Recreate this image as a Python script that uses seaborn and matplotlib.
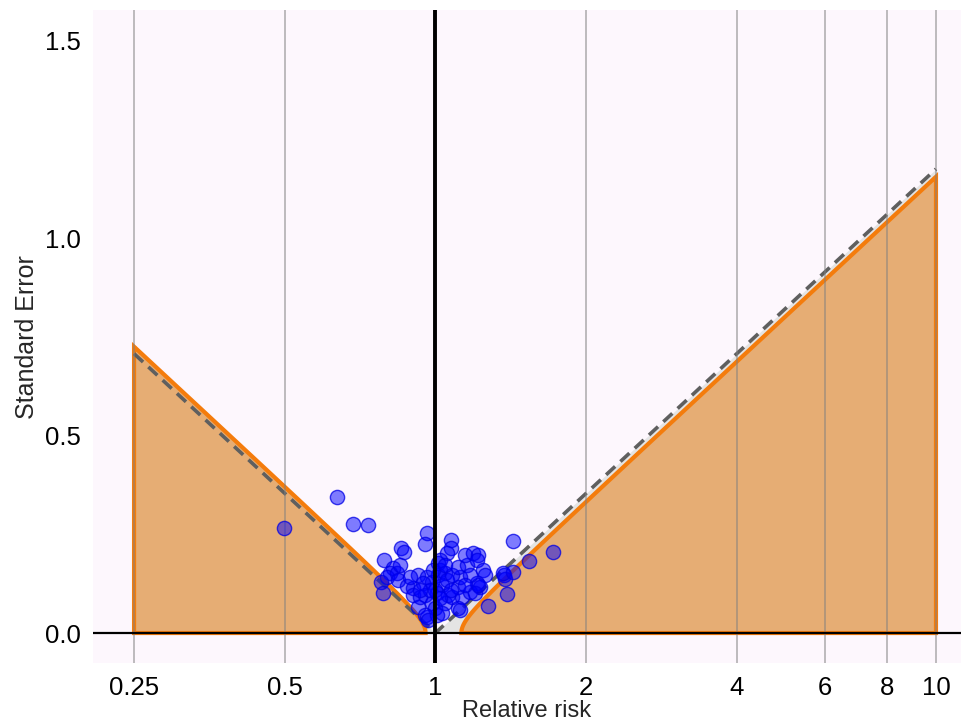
"""Contour-enhanced funnel plot: relative risk vs standard error."""

import matplotlib

matplotlib.use("Agg")
import matplotlib.pyplot as plt
import numpy as np
import pandas as pd
import seaborn as sns
from matplotlib.ticker import NullLocator

# study estimates
rr = [
    0.499, 0.637, 0.685, 0.735, 0.964, 0.955, 1.076, 1.076, 1.426, 1.714, 0.855, 0.867,
    0.791, 0.824, 0.813, 0.802, 0.780, 0.787, 0.839, 0.843, 0.879, 0.900, 0.925, 0.904,
    0.925, 0.964, 0.891, 0.851,
    1.014, 1.023, 1.057, 1.023, 0.964, 1.014, 1.047, 0.986, 0.946, 1.033, 1.009, 0.933,
    0.955, 0.986, 1.000, 1.047, 1.033, 0.955, 0.968, 1.062, 1.081, 1.107, 1.122, 1.132,
    1.107, 1.122, 1.000, 0.977, 1.023, 1.057, 0.991, 1.081, 1.072, 1.009, 0.933, 1.047,
    1.107, 1.159, 1.148, 1.191, 1.219, 1.213, 1.247, 1.259, 1.213, 1.230, 1.175, 1.202,
    1.219, 1.368, 1.380, 1.362, 1.432, 1.535, 1.393, 1.271, 1.175, 1.148,
]
se = [
    0.265, 0.344, 0.276, 0.273, 0.253, 0.225, 0.235, 0.215, 0.233, 0.205, 0.215, 0.205,
    0.185, 0.164, 0.152, 0.142, 0.129, 0.101, 0.152, 0.134, 0.119, 0.114, 0.147, 0.096,
    0.066, 0.040, 0.142, 0.172,
    0.177, 0.159, 0.202, 0.185, 0.142, 0.147, 0.152, 0.129, 0.126, 0.121, 0.101, 0.091,
    0.096, 0.076, 0.063, 0.076, 0.051, 0.046, 0.033, 0.096, 0.091, 0.116, 0.142, 0.091,
    0.063, 0.058, 0.109, 0.109, 0.088, 0.134, 0.159, 0.147, 0.109, 0.046, 0.109, 0.172,
    0.167, 0.172, 0.197, 0.202, 0.197, 0.185, 0.159, 0.147, 0.126, 0.116, 0.104, 0.101,
    0.121, 0.147, 0.137, 0.152, 0.154, 0.182, 0.099, 0.068, 0.147, 0.121,
]

x_ticks = [0.25, 0.5, 1, 2, 4, 6, 8, 10]
x_tick_labels = ["0.25", "0.5", "1", "2", "4", "6", "8", "10"]
y_ticks = [0.0, 0.5, 1.0, 1.5]
y_tick_labels = ["0.0", "0.5", "1.0", "1.5"]

# contour settings (log scale)
z = 1.96
centre = 0.037
tau = 0.042
rr_min, rr_max = 0.25, 10

FILL = "#e6ad74"
EDGE = "#f47c0c"


def main() -> None:
    sns.set_theme(style="white")
    plt.rcParams["font.family"] = ["Liberation Sans", "DejaVu Sans"]

    df = pd.DataFrame({"rr": rr, "se": se})

    fig = plt.figure(figsize=(9.61, 7.27), dpi=100)
    ax = fig.add_axes([0.0968, 0.088, 0.9032, 0.898])
    ax.set_facecolor("#fdf7fd")
    ax.set_xscale("log")

    # region outside the plain 95% funnel around RR = 1
    lx = np.linspace(np.log(rr_min), np.log(rr_max), 600)
    funnel = np.abs(lx) / z
    ax.fill_between(np.exp(lx), 0, funnel, color="#e4e4e4", lw=0, zorder=1)

    # shaded contour regions (left and right)
    lo, hi = np.log(rr_min), np.log(rr_max)
    se_l = np.sqrt(((centre - lo) / z) ** 2 - tau**2)
    s = np.linspace(0, se_l, 400)
    lx_l = centre - z * np.sqrt(s**2 + tau**2)
    ax.fill(
        np.r_[np.exp(lx_l), rr_min], np.r_[s, 0],
        facecolor=FILL, edgecolor=EDGE, lw=3.0, zorder=1.5,
    )
    se_r = np.sqrt(((hi - centre) / z) ** 2 - tau**2)
    s = np.linspace(0, se_r, 400)
    lx_r = centre + z * np.sqrt(s**2 + tau**2)
    ax.fill(
        np.r_[np.exp(lx_r), rr_max], np.r_[s, 0],
        facecolor=FILL, edgecolor=EDGE, lw=3.0, zorder=1.5,
    )

    ax.plot(np.exp(lx), funnel, color="#5f5f5f", lw=2.6,
            ls=(0, (3.4, 2.0)), zorder=2)

    sns.scatterplot(
        data=df, x="rr", y="se", ax=ax, s=105,
        facecolor=(0, 0, 1, 0.5), edgecolor=(0, 0, 0.9, 0.75),
        linewidth=1.0, zorder=3, legend=False,
    )

    ax.axvline(1, color="black", lw=2.8, zorder=5)
    ax.axhline(0, color="black", lw=1.6, zorder=5)

    ax.set_xlim(0.207, 11.22)
    ax.set_ylim(-0.076, 1.577)
    ax.set_xticks(x_ticks, x_tick_labels)
    ax.xaxis.set_minor_locator(NullLocator())
    ax.set_yticks(y_ticks, y_tick_labels)

    ax.set_axisbelow(False)
    ax.xaxis.grid(True, color="#808080", alpha=0.55, lw=1.3)
    ax.yaxis.grid(False)
    for sp in ax.spines.values():
        sp.set_visible(False)
    ax.tick_params(axis="both", length=0, labelsize=18.5, colors="black")
    ax.tick_params(axis="x", pad=9)
    ax.tick_params(axis="y", pad=9)

    ax.set_xlabel("Relative risk", fontsize=17, labelpad=0)
    ax.set_ylabel("Standard Error", fontsize=18, labelpad=4)

    fig.savefig("out.png", dpi=100)


if __name__ == "__main__":
    main()
